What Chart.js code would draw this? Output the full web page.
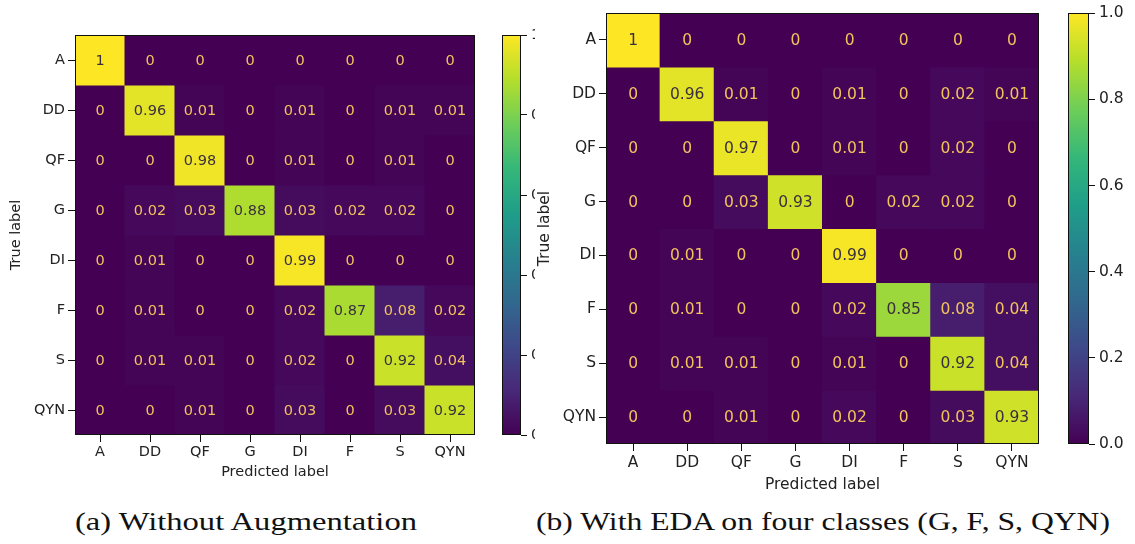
<!DOCTYPE html>
<html>
<head>
<meta charset="utf-8">
<script src="https://cdn.jsdelivr.net/npm/chart.js@4.4.1/dist/chart.umd.min.js"></script>
<style>
  body { margin: 0; background: #fff; width: 1135px; height: 544px; overflow: hidden; position: relative; }
  canvas { position: absolute; }
  #right { position: absolute; left: 535px; top: 0; width: 600px; height: 544px; background: #fff; }
  .cap { position: absolute; top: 509px; font-family: "Liberation Serif", serif; font-size: 26px; line-height: 1; white-space: nowrap; color: #111; transform-origin: left top; }
</style>
</head>
<body>
<canvas id="cmA" width="480" height="490" style="left:0;top:0"></canvas>
<canvas id="cbA" width="80" height="460" style="left:495px;top:0"></canvas>
<div id="right">
  <canvas id="cmB" width="510" height="500" style="left:0;top:0"></canvas>
  <canvas id="cbB" width="75" height="460" style="left:525px;top:0"></canvas>
</div>
<div class="cap" id="capA" style="left:75px">(a) Without Augmentation</div>
<div class="cap" id="capB" style="left:536px">(b) With EDA on four classes (G, F, S, QYN)</div>

<script>
// class names (true label rows / predicted label columns)
const classes = ["A", "DD", "QF", "G", "DI", "F", "S", "QYN"];

// (a) without augmentation
const noAug = [
  [1, 0, 0, 0, 0, 0, 0, 0],
  [0, 0.96, 0.01, 0, 0.01, 0, 0.01, 0.01],
  [0, 0, 0.98, 0, 0.01, 0, 0.01, 0],
  [0, 0.02, 0.03, 0.88, 0.03, 0.02, 0.02, 0],
  [0, 0.01, 0, 0, 0.99, 0, 0, 0],
  [0, 0.01, 0, 0, 0.02, 0.87, 0.08, 0.02],
  [0, 0.01, 0.01, 0, 0.02, 0, 0.92, 0.04],
  [0, 0, 0.01, 0, 0.03, 0, 0.03, 0.92]
];

// (b) with EDA on G, F, S, QYN
const withEda = [
  [1, 0, 0, 0, 0, 0, 0, 0],
  [0, 0.96, 0.01, 0, 0.01, 0, 0.02, 0.01],
  [0, 0, 0.97, 0, 0.01, 0, 0.02, 0],
  [0, 0, 0.03, 0.93, 0, 0.02, 0.02, 0],
  [0, 0.01, 0, 0, 0.99, 0, 0, 0],
  [0, 0.01, 0, 0, 0.02, 0.85, 0.08, 0.04],
  [0, 0.01, 0.01, 0, 0.01, 0, 0.92, 0.04],
  [0, 0, 0.01, 0, 0.02, 0, 0.03, 0.93]
];

const colorbarTicks = [0, 0.2, 0.4, 0.6, 0.8, 1.0];

// viridis colour stops
const viridis = ["#440154", "#482878", "#3e4989", "#31688e", "#26828e",
                 "#1f9e89", "#35b779", "#6ece58", "#b5de2b", "#fde725"];

function hexRgb(h) {
  return [parseInt(h.slice(1, 3), 16), parseInt(h.slice(3, 5), 16), parseInt(h.slice(5, 7), 16)];
}

function cmap(v) {
  const t = Math.max(0, Math.min(1, v)) * (viridis.length - 1);
  const i = Math.min(Math.floor(t), viridis.length - 2);
  const f = t - i;
  const a = hexRgb(viridis[i]), b = hexRgb(viridis[i + 1]);
  const c = a.map((x, k) => Math.round(x + (b[k] - x) * f));
  return `rgb(${c[0]},${c[1]},${c[2]})`;
}

const frame = {
  id: "frame",
  afterDraw(chart) {
    const { ctx, chartArea: a } = chart;
    ctx.save();
    ctx.strokeStyle = "#111";
    ctx.lineWidth = 1;
    ctx.strokeRect(Math.round(a.left) + 0.5, Math.round(a.top) + 0.5,
                   Math.round(a.right - a.left) - 1, Math.round(a.bottom - a.top) - 1);
    ctx.restore();
  }
};

function makeMatrix(id, values, o) {
  const font = { family: "DejaVu Sans", size: o.fontSize };

  // one floating-bar dataset per true-label row
  const datasets = values.map((row, r) => ({
    data: row.map(() => [r, r + 1]),
    backgroundColor: row.map(v => cmap(v)),
    borderWidth: 0,
    grouped: false,
    barPercentage: 1,
    categoryPercentage: 1,
    inflateAmount: 0.5
  }));

  const cellText = {
    id: "cellText",
    afterDatasetsDraw(chart) {
      const { ctx, scales: { x, y } } = chart;
      ctx.save();
      ctx.font = `${o.fontSize}px "DejaVu Sans"`;
      ctx.textAlign = "center";
      ctx.textBaseline = "middle";
      values.forEach((row, r) => {
        row.forEach((v, c) => {
          ctx.fillStyle = v > 0.5 ? "#3a2f3e" : "#f2c35c";
          ctx.fillText(String(v), x.getPixelForValue(c), y.getPixelForValue(r + 0.5) + 1);
        });
      });
      ctx.restore();
    }
  };

  return new Chart(document.getElementById(id), {
    type: "bar",
    data: { labels: classes, datasets },
    options: {
      responsive: false,
      animation: false,
      devicePixelRatio: 1,
      layout: { padding: o.padding },
      plugins: { legend: { display: false }, tooltip: { enabled: false } },
      scales: {
        x: {
          offset: true,
          grid: { drawOnChartArea: false, offset: false, tickLength: o.tickLen, color: "#111", tickWidth: 1 },
          border: { display: false },
          ticks: { color: "#222", font, padding: o.xPad, maxRotation: 0, autoSkip: false },
          title: { display: true, text: "Predicted label", color: "#222", font, padding: { top: 0, bottom: o.xTitlePad } },
          afterFit: s => { s.height = o.xHeight; }
        },
        y: {
          type: "linear",
          min: 0,
          max: classes.length,
          reverse: true,
          afterBuildTicks: s => { s.ticks = classes.map((c, i) => ({ value: i + 0.5 })); },
          grid: { drawOnChartArea: false, tickLength: o.tickLen, color: "#111", tickWidth: 1 },
          border: { display: false },
          ticks: { color: "#222", font, padding: o.yPad, callback: v => classes[Math.floor(v)] },
          title: { display: true, text: "True label", color: "#222", font, padding: { top: o.yTitlePad, bottom: 0 } },
          afterFit: s => { s.width = o.yWidth; }
        }
      }
    },
    plugins: [cellText, frame]
  });
}

function makeColorbar(id, o) {
  const font = { family: "DejaVu Sans", size: o.fontSize };
  return new Chart(document.getElementById(id), {
    type: "bar",
    data: {
      labels: [""],
      datasets: [{
        data: [[0, 1]],
        borderWidth: 0,
        barPercentage: 1,
        categoryPercentage: 1,
        backgroundColor: ctx => {
          const a = ctx.chart.chartArea;
          if (!a) return viridis[0];
          const g = ctx.chart.ctx.createLinearGradient(0, a.bottom, 0, a.top);
          viridis.forEach((c, i) => g.addColorStop(i / (viridis.length - 1), c));
          return g;
        }
      }]
    },
    options: {
      responsive: false,
      animation: false,
      devicePixelRatio: 1,
      layout: { padding: o.padding },
      plugins: { legend: { display: false }, tooltip: { enabled: false } },
      scales: {
        x: { display: false },
        y: {
          position: "right",
          min: 0,
          max: 1,
          afterBuildTicks: s => { s.ticks = colorbarTicks.map(v => ({ value: v })); },
          grid: { drawOnChartArea: false, tickLength: o.tickLen, color: "#111" },
          border: { display: false },
          ticks: { color: "#222", font, padding: o.yPad, callback: v => v.toFixed(1) },
          afterFit: s => { s.width = o.yWidth; }
        }
      }
    },
    plugins: [frame]
  });
}

makeMatrix("cmA", noAug, {
  fontSize: 14.5, tickLen: 7, xPad: 2, yPad: 3, xTitlePad: 9, yTitlePad: 8,
  xHeight: 55, yWidth: 75, padding: { top: 35, right: 5, left: 0, bottom: 0 }
});
makeColorbar("cbA", {
  fontSize: 14.5, tickLen: 6, yPad: 4, yWidth: 54, padding: { top: 35, bottom: 25, left: 7, right: 0 }
});

makeMatrix("cmB", withEda, {
  fontSize: 15.5, tickLen: 7, xPad: 3, yPad: 3, xTitlePad: 6, yTitlePad: 1,
  xHeight: 56, yWidth: 71, padding: { top: 13, right: 6, left: 0, bottom: 0 }
});
makeColorbar("cbB", {
  fontSize: 15.5, tickLen: 6, yPad: 4, yWidth: 46, padding: { top: 13, bottom: 16, left: 8, right: 0 }
});

// stretch captions to the widths they take in the figure
function fitCaption(id, width) {
  const el = document.getElementById(id);
  const w = el.getBoundingClientRect().width;
  el.style.transform = `scaleX(${width / w})`;
}
fitCaption("capA", 342);
fitCaption("capB", 574);
</script>
</body>
</html>
